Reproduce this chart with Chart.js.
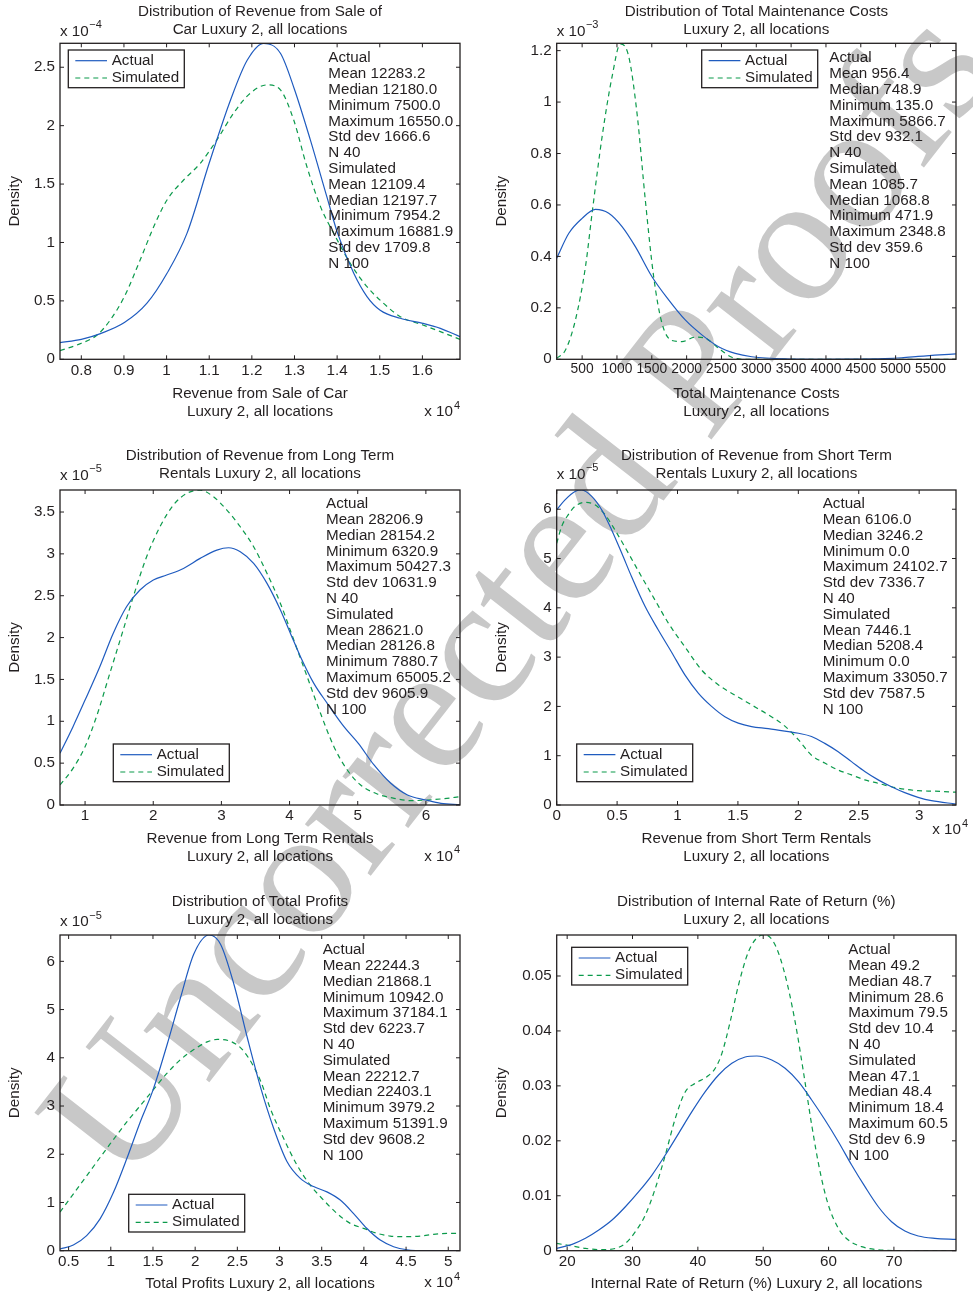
<!DOCTYPE html>
<html>
<head>
<meta charset="utf-8">
<script src="https://cdn.jsdelivr.net/npm/chart.js@4.4.0/dist/chart.umd.min.js"></script>
<style>
  html, body { margin: 0; padding: 0; background: #ffffff; }
  body { width: 973px; height: 1294px; position: relative; overflow: hidden; }
  #wm { position: absolute; left: 515px; top: 592px; transform: translate(-50%, -50%) rotate(-52deg);
        font-family: "Liberation Serif", "DejaVu Serif", serif; font-size: 182px; color: #c8c8c8;
        white-space: nowrap; line-height: 1; z-index: 0; }
  canvas { position: absolute; z-index: 1; }
</style>
</head>
<body>
<div id="wm">Uncorrected Proofs</div>
<script>
// ---------------- DATA ----------------
// Panel 1: Revenue from Sale of Car (x in 1e4, density in 1e-4)
const p1Title = ['Distribution of Revenue from Sale of', 'Car Luxury 2, all locations'];
const p1XLabel = ['Revenue from Sale of Car', 'Luxury 2, all locations'];
const p1XTicks = [0.8, 0.9, 1.0, 1.1, 1.2, 1.3, 1.4, 1.5, 1.6];
const p1XTickLabels = ['0.8', '0.9', '1', '1.1', '1.2', '1.3', '1.4', '1.5', '1.6'];
const p1YTicks = [0, 0.5, 1, 1.5, 2, 2.5];
const p1YTickLabels = ['0', '0.5', '1', '1.5', '2', '2.5'];
const p1ActualX = [0.75, 0.800, 0.845, 0.901, 0.954, 1.001, 1.048, 1.100, 1.150, 1.189, 1.228, 1.267, 1.300, 1.337, 1.376, 1.401, 1.439, 1.470, 1.501, 1.548, 1.601, 1.642, 1.68819];
const p1ActualY = [0.143, 0.171, 0.22, 0.314, 0.48, 0.736, 1.08, 1.68, 2.22, 2.56, 2.705, 2.62, 2.31, 1.88, 1.39, 1.08, 0.736, 0.537, 0.42, 0.351, 0.308, 0.265, 0.194];
const p1SimX = [0.75, 0.800, 0.837, 0.868, 0.901, 0.938, 0.970, 1.001, 1.040, 1.079, 1.118, 1.157, 1.196, 1.236, 1.267, 1.298, 1.329, 1.361, 1.392, 1.431, 1.470, 1.509, 1.548, 1.601, 1.642, 1.68819];
const p1SimY = [0.074, 0.137, 0.208, 0.337, 0.537, 0.85, 1.136, 1.364, 1.535, 1.678, 1.878, 2.106, 2.277, 2.349, 2.306, 2.05, 1.65, 1.307, 1.079, 0.82, 0.622, 0.479, 0.365, 0.294, 0.237, 0.171];
const p1StatsActual = ['Mean 12283.2', 'Median 12180.0', 'Minimum 7500.0', 'Maximum 16550.0', 'Std dev 1666.6', 'N 40'];
const p1StatsSim = ['Mean 12109.4', 'Median 12197.7', 'Minimum 7954.2', 'Maximum 16881.9', 'Std dev 1709.8', 'N 100'];

// Panel 2: Total Maintenance Costs (density in 1e-3)
const p2Title = ['Distribution of Total Maintenance Costs', 'Luxury 2, all locations'];
const p2XLabel = ['Total Maintenance Costs', 'Luxury 2, all locations'];
const p2XTicks = [500, 1000, 1500, 2000, 2500, 3000, 3500, 4000, 4500, 5000, 5500];
const p2XTickLabels = ['500', '1000', '1500', '2000', '2500', '3000', '3500', '4000', '4500', '5000', '5500'];
const p2YTicks = [0, 0.2, 0.4, 0.6, 0.8, 1.0, 1.2];
const p2YTickLabels = ['0', '0.2', '0.4', '0.6', '0.8', '1', '1.2'];
const p2ActualX = [135, 309, 500, 691, 882, 1073, 1264, 1503, 1742, 1980, 2219, 2458, 2697, 2935, 3413, 3891, 4368, 4846, 5085, 5323, 5562, 5866.7];
const p2ActualY = [0.393, 0.49, 0.548, 0.583, 0.568, 0.516, 0.438, 0.321, 0.231, 0.153, 0.095, 0.049, 0.023, 0.010, 0.0013, 0, 0.0005, 0.003, 0.006, 0.011, 0.016, 0.021];
const p2SimX = [135, 261, 404, 548, 643, 787, 930, 1049, 1169, 1288, 1407, 1527, 1646, 1789, 1933, 2124, 2267, 2458, 2649, 2840, 3413, 4368, 5866.7];
const p2SimY = [0.004, 0.036, 0.153, 0.36, 0.568, 0.866, 1.099, 1.226, 1.177, 0.956, 0.619, 0.321, 0.14, 0.073, 0.069, 0.086, 0.082, 0.043, 0.008, 0, 0, 0, 0];
const p2StatsActual = ['Mean 956.4', 'Median 748.9', 'Minimum 135.0', 'Maximum 5866.7', 'Std dev 932.1', 'N 40'];
const p2StatsSim = ['Mean 1085.7', 'Median 1068.8', 'Minimum 471.9', 'Maximum 2348.8', 'Std dev 359.6', 'N 100'];

// Panel 3: Revenue from Long Term Rentals (x in 1e4, density in 1e-5)
const p3Title = ['Distribution of Revenue from Long Term', 'Rentals Luxury 2, all locations'];
const p3XLabel = ['Revenue from Long Term Rentals', 'Luxury 2, all locations'];
const p3XTicks = [1, 2, 3, 4, 5, 6];
const p3XTickLabels = ['1', '2', '3', '4', '5', '6'];
const p3YTicks = [0, 0.5, 1, 1.5, 2, 2.5, 3, 3.5];
const p3YTickLabels = ['0', '0.5', '1', '1.5', '2', '2.5', '3', '3.5'];
const p3ActualX = [0.63209, 0.823, 1.0, 1.216, 1.412, 1.608, 1.805, 2.001, 2.197, 2.443, 2.688, 2.933, 3.105, 3.277, 3.473, 3.669, 3.866, 4.013, 4.160, 4.356, 4.553, 4.798, 5.009, 5.239, 5.485, 5.730, 6.0, 6.221, 6.50052];
const p3ActualY = [0.617, 0.936, 1.254, 1.652, 2.05, 2.369, 2.568, 2.687, 2.747, 2.826, 2.946, 3.045, 3.073, 3.025, 2.886, 2.647, 2.329, 2.05, 1.772, 1.453, 1.214, 0.936, 0.736, 0.478, 0.259, 0.119, 0.06, 0.02, 0.004];
const p3SimX = [0.63209, 0.823, 1.0, 1.167, 1.363, 1.559, 1.707, 1.903, 2.099, 2.295, 2.491, 2.688, 2.884, 3.080, 3.277, 3.473, 3.669, 3.866, 4.062, 4.258, 4.454, 4.651, 4.847, 5.043, 5.288, 5.534, 5.779, 6.025, 6.270, 6.50052];
const p3SimY = [0.239, 0.438, 0.697, 1.055, 1.572, 2.09, 2.488, 2.966, 3.324, 3.583, 3.722, 3.762, 3.682, 3.523, 3.324, 3.085, 2.767, 2.408, 1.971, 1.533, 1.095, 0.697, 0.418, 0.239, 0.131, 0.08, 0.052, 0.06, 0.076, 0.1];
const p3StatsActual = ['Mean 28206.9', 'Median 28154.2', 'Minimum 6320.9', 'Maximum 50427.3', 'Std dev 10631.9', 'N 40'];
const p3StatsSim = ['Mean 28621.0', 'Median 28126.8', 'Minimum 7880.7', 'Maximum 65005.2', 'Std dev 9605.9', 'N 100'];

// Panel 4: Revenue from Short Term Rentals (x in 1e4, density in 1e-5)
const p4Title = ['Distribution of Revenue from Short Term', 'Rentals Luxury 2, all locations'];
const p4XLabel = ['Revenue from Short Term Rentals', 'Luxury 2, all locations'];
const p4XTicks = [0, 0.5, 1, 1.5, 2, 2.5, 3];
const p4XTickLabels = ['0', '0.5', '1', '1.5', '2', '2.5', '3'];
const p4YTicks = [0, 1, 2, 3, 4, 5, 6];
const p4YTickLabels = ['0', '1', '2', '3', '4', '5', '6'];
const p4ActualX = [0, 0.069, 0.152, 0.207, 0.29, 0.372, 0.455, 0.538, 0.620, 0.731, 0.841, 0.951, 1.061, 1.172, 1.282, 1.392, 1.503, 1.613, 1.751, 1.889, 2.002, 2.109, 2.219, 2.33, 2.44, 2.55, 2.661, 2.771, 2.881, 2.991, 3.102, 3.30507];
const p4ActualY = [5.99, 6.19, 6.36, 6.39, 6.26, 5.99, 5.58, 5.11, 4.63, 4.03, 3.55, 3.1, 2.64, 2.27, 2.0, 1.79, 1.66, 1.59, 1.55, 1.50, 1.455, 1.39, 1.25, 1.08, 0.88, 0.68, 0.51, 0.37, 0.25, 0.156, 0.088, 0.02];
const p4SimX = [0, 0.041, 0.096, 0.152, 0.234, 0.317, 0.4, 0.482, 0.593, 0.703, 0.813, 0.924, 1.061, 1.199, 1.337, 1.475, 1.613, 1.751, 1.889, 2.002, 2.109, 2.219, 2.33, 2.44, 2.55, 2.661, 2.771, 2.881, 2.991, 3.129, 3.30507];
const p4SimY = [5.31, 5.65, 5.89, 6.06, 6.14, 6.09, 5.89, 5.58, 5.11, 4.63, 4.16, 3.69, 3.21, 2.74, 2.44, 2.23, 2.03, 1.83, 1.6, 1.32, 1.01, 0.85, 0.71, 0.61, 0.51, 0.44, 0.37, 0.32, 0.29, 0.28, 0.26];
const p4StatsActual = ['Mean 6106.0', 'Median 3246.2', 'Minimum 0.0', 'Maximum 24102.7', 'Std dev 7336.7', 'N 40'];
const p4StatsSim = ['Mean 7446.1', 'Median 5208.4', 'Minimum 0.0', 'Maximum 33050.7', 'Std dev 7587.5', 'N 100'];

// Panel 5: Total Profits (x in 1e4, density in 1e-5)
const p5Title = ['Distribution of Total Profits', 'Luxury 2, all locations'];
const p5XLabel = ['Total Profits Luxury 2, all locations'];
const p5XTicks = [0.5, 1, 1.5, 2, 2.5, 3, 3.5, 4, 4.5, 5];
const p5XTickLabels = ['0.5', '1', '1.5', '2', '2.5', '3', '3.5', '4', '4.5', '5'];
const p5YTicks = [0, 1, 2, 3, 4, 5, 6];
const p5YTickLabels = ['0', '1', '2', '3', '4', '5', '6'];
const p5ActualX = [0.39792, 0.556, 0.714, 0.873, 1.032, 1.19, 1.349, 1.5, 1.667, 1.825, 1.984, 2.163, 2.302, 2.46, 2.619, 2.778, 2.930, 3.088, 3.246, 3.404, 3.562, 3.720, 3.878, 4.036, 4.194, 4.352, 4.510, 4.747, 5.13919];
const p5ActualY = [0.035, 0.118, 0.313, 0.66, 1.21, 1.91, 2.67, 3.33, 4.27, 5.24, 6.15, 6.546, 6.35, 5.52, 4.41, 3.37, 2.54, 1.85, 1.5, 1.33, 1.22, 1.05, 0.77, 0.46, 0.22, 0.083, 0.02, 0, 0];
const p5SimX = [0.39792, 0.675, 0.952, 1.19, 1.389, 1.5, 1.667, 1.825, 1.984, 2.143, 2.262, 2.421, 2.579, 2.778, 2.890, 3.048, 3.206, 3.364, 3.522, 3.680, 3.838, 3.996, 4.155, 4.313, 4.490, 4.668, 4.826, 4.984, 5.13919];
const p5SimY = [0.80, 1.46, 2.12, 2.67, 3.09, 3.33, 3.68, 3.96, 4.17, 4.33, 4.38, 4.34, 4.13, 3.51, 2.95, 2.33, 1.78, 1.36, 1.05, 0.774, 0.567, 0.463, 0.36, 0.304, 0.29, 0.304, 0.339, 0.36, 0.36];
const p5StatsActual = ['Mean 22244.3', 'Median 21868.1', 'Minimum 10942.0', 'Maximum 37184.1', 'Std dev 6223.7', 'N 40'];
const p5StatsSim = ['Mean 22212.7', 'Median 22403.1', 'Minimum 3979.2', 'Maximum 51391.9', 'Std dev 9608.2', 'N 100'];

// Panel 6: Internal Rate of Return (%)
const p6Title = ['Distribution of Internal Rate of Return (%)', 'Luxury 2, all locations'];
const p6XLabel = ['Internal Rate of Return (%) Luxury 2, all locations'];
const p6XTicks = [20, 30, 40, 50, 60, 70];
const p6XTickLabels = ['20', '30', '40', '50', '60', '70'];
const p6YTicks = [0, 0.01, 0.02, 0.03, 0.04, 0.05];
const p6YTickLabels = ['0', '0.01', '0.02', '0.03', '0.04', '0.05'];
const p6ActualX = [18.4, 20.76, 22.80, 24.84, 26.87, 28.91, 30.95, 32.98, 35.02, 37.06, 39.09, 41.13, 43.17, 45.20, 47.24, 49.02, 51.31, 53.35, 55.39, 57.42, 59.46, 61.50, 63.53, 65.57, 67.61, 69.64, 71.68, 73.72, 76.26, 79.5];
const p6ActualY = [0.00042, 0.00115, 0.00225, 0.00376, 0.00558, 0.008, 0.01074, 0.01377, 0.01742, 0.02136, 0.0253, 0.02894, 0.03198, 0.0341, 0.03525, 0.03544, 0.03471, 0.0332, 0.03076, 0.02743, 0.02379, 0.01984, 0.0156, 0.01165, 0.008, 0.00528, 0.00358, 0.00267, 0.00225, 0.00206];
const p6SimX = [18.4, 20.76, 22.80, 25.35, 27.38, 28.91, 30.44, 31.97, 33.49, 35.02, 36.55, 38.08, 39.60, 41.39, 42.66, 43.68, 44.95, 46.22, 47.75, 49.28, 50.30, 51.83, 53.35, 54.88, 56.15, 57.42, 58.70, 59.97, 61.50, 63.02, 65.06, 67.61, 71.17, 79.5];
const p6SimY = [0.00133, 0.00085, 0.00042, 0.00018, 0.00042, 0.00133, 0.00346, 0.0065, 0.01135, 0.01742, 0.02409, 0.02894, 0.03046, 0.03167, 0.0332, 0.03592, 0.04169, 0.04836, 0.05443, 0.05716, 0.05746, 0.05564, 0.05018, 0.04169, 0.03258, 0.02288, 0.01438, 0.00831, 0.00407, 0.00194, 0.00073, 0.00018, 0, 0];
const p6StatsActual = ['Mean 49.2', 'Median 48.7', 'Minimum 28.6', 'Maximum 79.5', 'Std dev 10.4', 'N 40'];
const p6StatsSim = ['Mean 47.1', 'Median 48.4', 'Minimum 18.4', 'Maximum 60.5', 'Std dev 6.9', 'N 100'];

const seriesNames = ['Actual', 'Simulated'];
const yAxisTitle = 'Density';

// ---------------- STYLE / LAYOUT ----------------
const FAMILY = '"Liberation Sans", Arial, Helvetica, sans-serif';
const FS = 15.2;
const INK = '#231f20';
const BLUE = '#1f5bbf';
const GREEN = '#0b9a4b';

function pts(xs, ys) { return xs.map((x, i) => ({ x: x, y: ys[i] })); }

const panels = [
  { box: { x: 0, y: 0, w: 486, h: 440 }, plot: { l: 60, t: 43.3, r: 460, b: 359.3 },
    xmin: 0.75, xmax: 1.68819, ymax: 2.705, xfs: 15.2,
    xt: p1XTicks, xtl: p1XTickLabels, yt: p1YTicks, ytl: p1YTickLabels,
    ax: p1ActualX, ay: p1ActualY, sx: p1SimX, sy: p1SimY,
    title: p1Title, titleY: [12, 30], xlabel: p1XLabel, xlabelY: [394.3, 412.3],
    yexp: { x: 60, y: 31.7, e: '\u22124' }, xexp: { r: 460, y: 412.3, e: '4' },
    ylabX: 15, legend: { x: 68.3, y: 50 }, stats: { x: 328.3, y: 58.3 }, sa: p1StatsActual, ss: p1StatsSim },
  { box: { x: 486, y: 0, w: 487, h: 440 }, plot: { l: 556.7, t: 43.3, r: 956, b: 359.3 },
    xmin: 135.0, xmax: 5866.7, ymax: 1.2285, xfs: 13.8,
    xt: p2XTicks, xtl: p2XTickLabels, yt: p2YTicks, ytl: p2YTickLabels,
    ax: p2ActualX, ay: p2ActualY, sx: p2SimX, sy: p2SimY,
    title: p2Title, titleY: [12, 30], xlabel: p2XLabel, xlabelY: [394.3, 412.3],
    yexp: { x: 556.7, y: 31.7, e: '\u22123' }, xexp: null,
    ylabX: 502.3, legend: { x: 701.7, y: 50 }, stats: { x: 829.3, y: 58.3 }, sa: p2StatsActual, ss: p2StatsSim },
  { box: { x: 0, y: 440, w: 486, h: 445 }, plot: { l: 60, t: 490, r: 460, b: 805 },
    xmin: 0.63209, xmax: 6.50052, ymax: 3.763, xfs: 15.2,
    xt: p3XTicks, xtl: p3XTickLabels, yt: p3YTicks, ytl: p3YTickLabels,
    ax: p3ActualX, ay: p3ActualY, sx: p3SimX, sy: p3SimY,
    title: p3Title, titleY: [456, 474], xlabel: p3XLabel, xlabelY: [839, 856.7],
    yexp: { x: 60, y: 476, e: '\u22125' }, xexp: { r: 460, y: 856.7, e: '4' },
    ylabX: 15, legend: { x: 113.3, y: 744 }, stats: { x: 326, y: 504 }, sa: p3StatsActual, ss: p3StatsSim },
  { box: { x: 486, y: 440, w: 487, h: 445 }, plot: { l: 556.7, t: 490, r: 956, b: 805 },
    xmin: 0, xmax: 3.30507, ymax: 6.39, xfs: 15.2,
    xt: p4XTicks, xtl: p4XTickLabels, yt: p4YTicks, ytl: p4YTickLabels,
    ax: p4ActualX, ay: p4ActualY, sx: p4SimX, sy: p4SimY,
    title: p4Title, titleY: [456, 474], xlabel: p4XLabel, xlabelY: [839, 856.7],
    yexp: { x: 556.7, y: 475, e: '\u22125' }, xexp: { r: 968, y: 830, e: '4' },
    ylabX: 502.3, legend: { x: 576.7, y: 744 }, stats: { x: 822.7, y: 504 }, sa: p4StatsActual, ss: p4StatsSim },
  { box: { x: 0, y: 885, w: 486, h: 409 }, plot: { l: 60, t: 935, r: 460, b: 1250.7 },
    xmin: 0.39792, xmax: 5.13919, ymax: 6.546, xfs: 15.2,
    xt: p5XTicks, xtl: p5XTickLabels, yt: p5YTicks, ytl: p5YTickLabels,
    ax: p5ActualX, ay: p5ActualY, sx: p5SimX, sy: p5SimY,
    title: p5Title, titleY: [901.7, 919.7], xlabel: p5XLabel, xlabelY: [1284],
    yexp: { x: 60, y: 922.3, e: '\u22125' }, xexp: { r: 460, y: 1283, e: '4' },
    ylabX: 15, legend: { x: 128.7, y: 1194.3 }, stats: { x: 322.7, y: 950 }, sa: p5StatsActual, ss: p5StatsSim },
  { box: { x: 486, y: 885, w: 487, h: 409 }, plot: { l: 556.7, t: 935, r: 956, b: 1250.7 },
    xmin: 18.4, xmax: 79.5, ymax: 0.05746, xfs: 15.2,
    xt: p6XTicks, xtl: p6XTickLabels, yt: p6YTicks, ytl: p6YTickLabels,
    ax: p6ActualX, ay: p6ActualY, sx: p6SimX, sy: p6SimY,
    title: p6Title, titleY: [901.7, 919.7], xlabel: p6XLabel, xlabelY: [1284],
    yexp: null, xexp: null,
    ylabX: 502.3, legend: { x: 571.7, y: 947.3 }, stats: { x: 848.3, y: 950 }, sa: p6StatsActual, ss: p6StatsSim }
];

function makePanel(cfg) {
  const cv = document.createElement('canvas');
  cv.width = cfg.box.w; cv.height = cfg.box.h;
  cv.style.left = cfg.box.x + 'px'; cv.style.top = cfg.box.y + 'px';
  cv.style.width = cfg.box.w + 'px'; cv.style.height = cfg.box.h + 'px';
  document.body.appendChild(cv);
  const ox = cfg.box.x, oy = cfg.box.y, P = cfg.plot;

  function text(ctx, s, x, y, align, size) {
    ctx.font = (size || FS) + 'px ' + FAMILY;
    ctx.textAlign = align || 'left';
    ctx.textBaseline = 'middle';
    ctx.fillStyle = INK;
    ctx.fillText(s, x - ox, y - oy);
  }
  function seg(ctx, x1, y1, x2, y2) {
    ctx.beginPath(); ctx.moveTo(x1, y1); ctx.lineTo(x2, y2); ctx.stroke();
  }

  const decor = {
    id: 'decor',
    afterDraw(chart) {
      const ctx = chart.ctx, a = chart.chartArea, xs = chart.scales.x, ys = chart.scales.y;
      ctx.save();
      // axes box
      ctx.strokeStyle = INK; ctx.lineWidth = 1.3; ctx.setLineDash([]);
      ctx.strokeRect(a.left, a.top, a.right - a.left, a.bottom - a.top);
      // inward ticks on all sides
      ctx.lineWidth = 1;
      xs.ticks.forEach(t => {
        const px = xs.getPixelForValue(t.value);
        seg(ctx, px, a.bottom, px, a.bottom - 4);
        seg(ctx, px, a.top, px, a.top + 4);
      });
      ys.ticks.forEach(t => {
        const py = ys.getPixelForValue(t.value);
        seg(ctx, a.left, py, a.left + 4, py);
        seg(ctx, a.right, py, a.right - 4, py);
      });
      // title
      const cx = (P.l + P.r) / 2;
      cfg.title.forEach((s, i) => text(ctx, s, cx, cfg.titleY[i], 'center'));
      // x axis title
      cfg.xlabel.forEach((s, i) => text(ctx, s, cx, cfg.xlabelY[i], 'center'));
      // y axis title
      ctx.save();
      ctx.translate(cfg.ylabX - ox, (P.t + P.b) / 2 - oy);
      ctx.rotate(-Math.PI / 2);
      ctx.font = FS + 'px ' + FAMILY; ctx.textAlign = 'center'; ctx.textBaseline = 'middle'; ctx.fillStyle = INK;
      ctx.fillText(yAxisTitle, 0, 0);
      ctx.restore();
      // y exponent
      if (cfg.yexp) {
        ctx.font = FS + 'px ' + FAMILY;
        const w = ctx.measureText('x 10').width;
        text(ctx, 'x 10', cfg.yexp.x, cfg.yexp.y, 'left');
        text(ctx, cfg.yexp.e, cfg.yexp.x + w + 0.5, cfg.yexp.y - 6.7, 'left', 11);
      }
      // x exponent
      if (cfg.xexp) {
        ctx.font = FS + 'px ' + FAMILY;
        const w1 = ctx.measureText('x 10').width;
        ctx.font = '11px ' + FAMILY;
        const w2 = ctx.measureText(cfg.xexp.e).width;
        const x0 = cfg.xexp.r - w1 - w2 - 1;
        text(ctx, 'x 10', x0, cfg.xexp.y, 'left');
        text(ctx, cfg.xexp.e, x0 + w1 + 1, cfg.xexp.y - 6.5, 'left', 11);
      }
      // legend
      const L = cfg.legend;
      ctx.strokeStyle = INK; ctx.lineWidth = 1.3; ctx.setLineDash([]);
      ctx.strokeRect(L.x - ox, L.y - oy, 116, 37.7);
      ctx.lineWidth = 1.2;
      ctx.strokeStyle = BLUE;
      seg(ctx, L.x + 7 - ox, L.y + 10.7 - oy, L.x + 38.7 - ox, L.y + 10.7 - oy);
      ctx.strokeStyle = GREEN; ctx.setLineDash([5, 4]);
      seg(ctx, L.x + 7 - ox, L.y + 28 - oy, L.x + 38.7 - ox, L.y + 28 - oy);
      ctx.setLineDash([]);
      text(ctx, seriesNames[0], L.x + 43.4, L.y + 10.7, 'left');
      text(ctx, seriesNames[1], L.x + 43.4, L.y + 28, 'left');
      // statistics block
      const lines = [seriesNames[0]].concat(cfg.sa, [seriesNames[1]], cfg.ss);
      lines.forEach((s, i) => text(ctx, s, cfg.stats.x, cfg.stats.y + i * 15.8, 'left'));
      ctx.restore();
    }
  };

  new Chart(cv, {
    type: 'line',
    data: {
      datasets: [
        { label: seriesNames[0], data: pts(cfg.ax, cfg.ay), borderColor: BLUE, borderWidth: 1.2,
          pointRadius: 0, cubicInterpolationMode: 'monotone', fill: false },
        { label: seriesNames[1], data: pts(cfg.sx, cfg.sy), borderColor: GREEN, borderWidth: 1.2,
          borderDash: [5, 4], pointRadius: 0, cubicInterpolationMode: 'monotone', fill: false }
      ]
    },
    options: {
      responsive: false, animation: false, events: [],
      layout: { padding: { left: 0, right: ox + cfg.box.w - P.r, top: P.t - oy, bottom: 0 } },
      plugins: { legend: { display: false }, tooltip: { enabled: false }, title: { display: false } },
      scales: {
        x: {
          type: 'linear', min: cfg.xmin, max: cfg.xmax,
          afterFit(s) { s.height = oy + cfg.box.h - P.b; },
          afterBuildTicks(s) { s.ticks = cfg.xt.map(v => ({ value: v })); },
          ticks: { autoSkip: false, maxRotation: 0, minRotation: 0, padding: 2, color: INK,
                   font: { family: FAMILY, size: cfg.xfs }, callback: (v, i) => cfg.xtl[i] },
          grid: { display: false, drawTicks: false }, border: { display: false }
        },
        y: {
          type: 'linear', min: 0, max: cfg.ymax,
          afterFit(s) { s.width = P.l - ox; },
          afterBuildTicks(s) { s.ticks = cfg.yt.map(v => ({ value: v })); },
          ticks: { autoSkip: false, padding: 5, color: INK,
                   font: { family: FAMILY, size: FS }, callback: (v, i) => cfg.ytl[i] },
          grid: { display: false, drawTicks: false }, border: { display: false }
        }
      }
    },
    plugins: [decor]
  });
}

panels.forEach(makePanel);
</script>
</body>
</html>
